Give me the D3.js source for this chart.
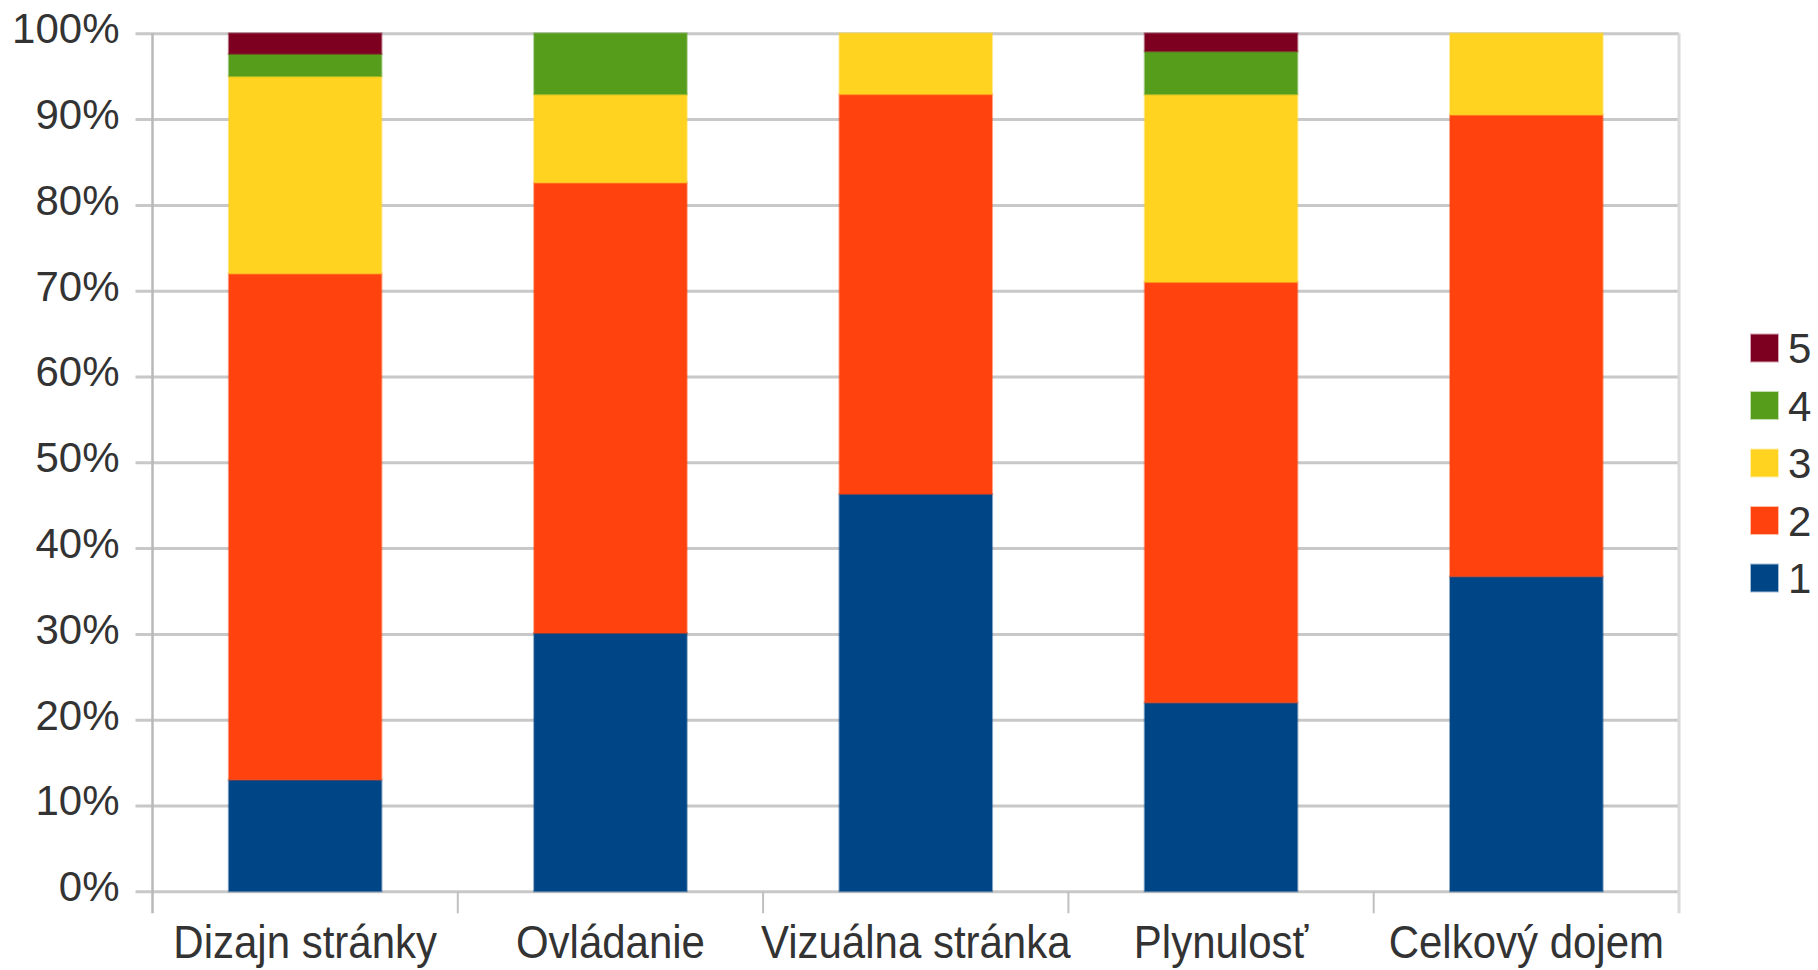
<!DOCTYPE html>
<html>
<head>
<meta charset="utf-8">
<script src="https://cdn.jsdelivr.net/npm/d3@7"></script>
<style>
  html, body { margin: 0; padding: 0; background: #ffffff; }
  svg { display: block; }
  text { font-family: "Liberation Sans", Arial, sans-serif; fill: #333333; }
</style>
</head>
<body>
<svg id="chart" width="1818" height="970"></svg>
<script>
// Categories (x axis) and the share of each rating per category, in percent
const categories = ["Dizajn stránky", "Ovládanie", "Vizuálna stránka", "Plynulosť", "Celkový dojem"];
const seriesKeys = ["1", "2", "3", "4", "5"];
const rating1 = [13.0, 30.1, 46.3, 22.0, 36.7];
const rating2 = [59.0, 52.5, 46.6, 49.0, 53.8];
const rating3 = [23.0, 10.3, 7.1, 21.9, 9.5];
const rating4 = [2.6, 7.1, 0, 5.0, 0];
const rating5 = [2.4, 0, 0, 2.1, 0];
const seriesColors = ["#004586", "#ff420e", "#ffd320", "#579d1c", "#7e0021"];
const yTicks = [0, 10, 20, 30, 40, 50, 60, 70, 80, 90, 100];

const seriesValues = [rating1, rating2, rating3, rating4, rating5];
const rows = categories.map((c, i) => {
  const r = { category: c };
  seriesKeys.forEach((k, j) => { r[k] = seriesValues[j][i]; });
  return r;
});

const svg = d3.select("#chart");
const plotLeft = 152.5, plotRight = 1679, plotTop = 33.3, plotBottom = 891.3;
const plotW = plotRight - plotLeft;

const x = d3.scaleBand()
  .domain(categories)
  .range([plotLeft, plotRight])
  .paddingInner(0.5)
  .paddingOuter(0.25);

const y = d3.scaleLinear().domain([0, 100]).range([plotBottom, plotTop]);
const color = d3.scaleOrdinal().domain(seriesKeys).range(seriesColors);

// Horizontal gridlines with outward ticks and percent labels
const yAxis = svg.append("g")
  .attr("transform", `translate(${plotLeft},0)`)
  .call(d3.axisLeft(y).tickValues(yTicks).tickSize(17).tickPadding(16)
    .tickFormat(d => d + "%"));
yAxis.select(".domain").remove();
yAxis.selectAll(".tick line")
  .attr("x1", plotW)
  .attr("x2", -17)
  .attr("stroke", "#c8c8c8")
  .attr("stroke-width", 3);
yAxis.selectAll(".tick text")
  .attr("y", -4)
  .style("font-size", "42px")
  .style("fill", "#333333");

// Stacked bars
const stacked = d3.stack().keys(seriesKeys)(rows);
svg.append("g")
  .selectAll("g")
  .data(stacked)
  .join("g")
  .attr("fill", d => color(d.key))
  .attr("stroke", d => color(d.key))
  .attr("stroke-opacity", 0.45)
  .attr("stroke-width", 2)
  .selectAll("rect")
  .data(d => d.filter(s => s[1] - s[0] > 0))
  .join("rect")
  .attr("x", d => x(d.data.category))
  .attr("width", x.bandwidth())
  .attr("y", d => y(d[1]))
  .attr("height", d => y(d[0]) - y(d[1]));

// Plot frame: left axis line, right border, category separators
const frame = svg.append("g");
frame.append("line")
  .attr("x1", plotLeft).attr("x2", plotLeft)
  .attr("y1", plotTop).attr("y2", plotBottom + 22)
  .attr("stroke", "#b8b8b8").attr("stroke-width", 2.5);
frame.append("line")
  .attr("x1", plotRight).attr("x2", plotRight)
  .attr("y1", plotTop).attr("y2", plotBottom + 22)
  .attr("stroke", "#dadada").attr("stroke-width", 3);
frame.selectAll("line.sep")
  .data(d3.range(1, categories.length))
  .join("line")
  .attr("class", "sep")
  .attr("x1", i => plotLeft + i * x.step())
  .attr("x2", i => plotLeft + i * x.step())
  .attr("y1", plotBottom)
  .attr("y2", plotBottom + 22)
  .attr("stroke", "#c0c0c0").attr("stroke-width", 2);

// Category labels
const xAxis = svg.append("g")
  .attr("transform", `translate(0,${plotBottom})`)
  .call(d3.axisBottom(x).tickSize(0).tickPadding(0));
xAxis.select(".domain").remove();
xAxis.selectAll(".tick text")
  .attr("dy", null)
  .attr("y", 0)
  .attr("transform", "translate(0,67) scale(1,1.1)")
  .style("font-size", "42px")
  .style("fill", "#333333");

// Legend (top to bottom: 5 … 1)
const legendKeys = seriesKeys.slice().reverse();
const legend = svg.append("g")
  .selectAll("g")
  .data(legendKeys)
  .join("g")
  .attr("transform", (d, i) => `translate(1751,${348 + i * 57.5})`);
legend.append("rect")
  .attr("x", 0).attr("y", -13.5)
  .attr("width", 27).attr("height", 27)
  .attr("fill", d => color(d))
  .attr("stroke", d => color(d))
  .attr("stroke-opacity", 0.35)
  .attr("stroke-width", 2);
legend.append("text")
  .attr("x", 37)
  .attr("y", 15)
  .style("font-size", "42px")
  .text(d => d);
</script>
</body>
</html>
